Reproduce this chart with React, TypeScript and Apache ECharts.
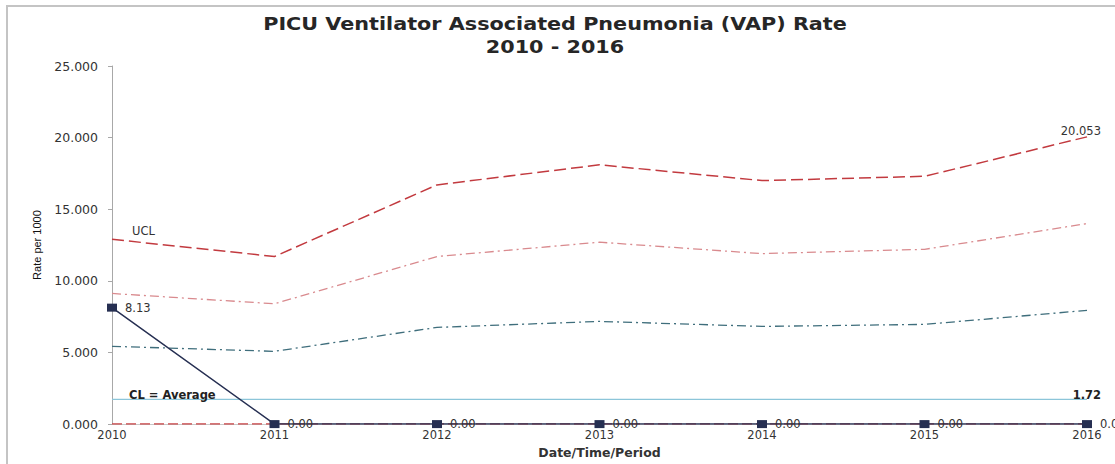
import React, { useEffect, useRef } from "react";
import * as echarts from "echarts";

const years = ["2010", "2011", "2012", "2013", "2014", "2015", "2016"];
const rate = [8.13, 0, 0, 0, 0, 0, 0];
const ucl = [12.9, 11.7, 16.7, 18.1, 17.0, 17.3, 20.053];
const upper2 = [9.12, 8.4, 11.7, 12.7, 11.9, 12.2, 14.0];
const upper1 = [5.43, 5.08, 6.75, 7.17, 6.82, 6.96, 7.94];
const cl = [1.72, 1.72, 1.72, 1.72, 1.72, 1.72, 1.72];
const lcl = [0, 0, 0, 0, 0, 0, 0];
const yTicks = { min: 0, max: 25, interval: 5 };
const titleLines = ["PICU Ventilator Associated Pneumonia (VAP) Rate", "2010 - 2016"];

const font = "'DejaVu Sans', Verdana, sans-serif";

export default function App() {
  const ref = useRef<HTMLDivElement>(null);
  useEffect(() => {
    const chart = echarts.init(ref.current!, null, { renderer: "svg" });
    const last = years.length - 1;
    const hiddenSym = { symbol: "circle", symbolSize: 1, showSymbol: true, itemStyle: { color: "rgba(0,0,0,0)" } };
    chart.setOption({
      animation: false,
      backgroundColor: "#ffffff",
      graphic: [
        {
          type: "rect",
          shape: { x: 7, y: 6, width: 1130, height: 480 },
          style: { fill: "none", stroke: "#c4c4c4", lineWidth: 2 },
          silent: true,
        },
        {
          type: "text",
          x: 555,
          y: 12,
          scaleX: 1.22,
          style: {
            text: titleLines.join("\n"),
            textAlign: "center",
            font: `bold 17px ${font}`,
            fill: "#262626",
            lineHeight: 23,
          },
          silent: true,
        },
      ],
      grid: { left: 112, right: 28, top: 66, bottom: 35, containLabel: false },
      xAxis: {
        type: "category",
        data: years,
        boundaryGap: false,
        name: "Date/Time/Period",
        nameLocation: "middle",
        nameGap: 21,
        nameTextStyle: { fontFamily: font, fontSize: 12.5, fontWeight: "bold", color: "#333" },
        axisLine: { show: true, lineStyle: { color: "#c8c8c8" } },
        axisTick: { show: false },
        axisLabel: { fontFamily: font, fontSize: 11.5, color: "#333", margin: 5 },
        splitLine: { show: false },
      },
      yAxis: {
        type: "value",
        min: yTicks.min,
        max: yTicks.max,
        interval: yTicks.interval,
        name: "Rate per 1000",
        nameLocation: "middle",
        nameGap: 70,
        nameTextStyle: { fontFamily: "'Liberation Sans Narrow', 'Liberation Sans', sans-serif", fontSize: 11, color: "#111" },
        axisLine: { show: true, lineStyle: { color: "#a8a8a8" } },
        axisTick: { show: true, length: 4, lineStyle: { color: "#a8a8a8" } },
        axisLabel: { fontFamily: font, fontSize: 12.5, color: "#333", margin: 14, formatter: (v: number) => v.toFixed(3) },
        splitLine: { show: false },
      },
      series: [
        {
          name: "LCL",
          type: "line",
          data: lcl,
          symbol: "none",
          lineStyle: { color: "#c9474a", width: 1.5, type: [10, 4] },
          z: 2,
        },
        {
          name: "CL",
          type: "line",
          ...hiddenSym,
          data: cl.map((v, i) => {
            if (i === 0)
              return {
                value: v,
                label: { show: true, position: "top", align: "left", offset: [17, 7], formatter: "CL = Average" },
              };
            if (i === last)
              return {
                value: v,
                label: { show: true, position: "top", align: "right", offset: [14, 7], formatter: () => v.toFixed(2) },
              };
            return v;
          }),
          label: { show: false, fontFamily: font, fontSize: 11.5, fontWeight: "bold", color: "#222" },
          lineStyle: { color: "#8cc5d9", width: 1.3 },
          z: 2,
        },
        {
          name: "Upper1",
          type: "line",
          data: upper1,
          symbol: "none",
          lineStyle: { color: "#3f6e7c", width: 1.3, type: [9, 4, 2, 4] },
          z: 2,
        },
        {
          name: "Upper2",
          type: "line",
          data: upper2,
          symbol: "none",
          lineStyle: { color: "#d98a8e", width: 1.3, type: [9, 4, 2, 4] },
          z: 2,
        },
        {
          name: "UCL",
          type: "line",
          ...hiddenSym,
          data: ucl.map((v, i) => {
            if (i === 0)
              return {
                value: v,
                label: { show: true, position: "top", align: "left", offset: [20, 3], formatter: "UCL" },
              };
            if (i === last)
              return {
                value: v,
                label: { show: true, position: "top", align: "right", offset: [14, 6], formatter: () => v.toFixed(3) },
              };
            return v;
          }),
          label: { show: false, fontFamily: font, fontSize: 11.5, color: "#333" },
          lineStyle: { color: "#c23a3f", width: 1.5, type: [12, 5] },
          z: 2,
        },
        {
          name: "Rate",
          type: "line",
          data: rate,
          symbol: "rect",
          symbolSize: [10, 8],
          itemStyle: { color: "#262f52" },
          lineStyle: { color: "#262f52", width: 1.5 },
          label: {
            show: true,
            position: "right",
            distance: 8,
            fontFamily: font,
            fontSize: 11.5,
            color: "#333",
            formatter: (p: any) => Number(p.value).toFixed(2),
          },
          z: 5,
        },
      ],
    });
    return () => chart.dispose();
  }, []);
  return (
    <div
      ref={ref}
      style={{ position: "fixed", left: 0, top: 0, width: 1115, height: 464 }}
    />
  );
}
